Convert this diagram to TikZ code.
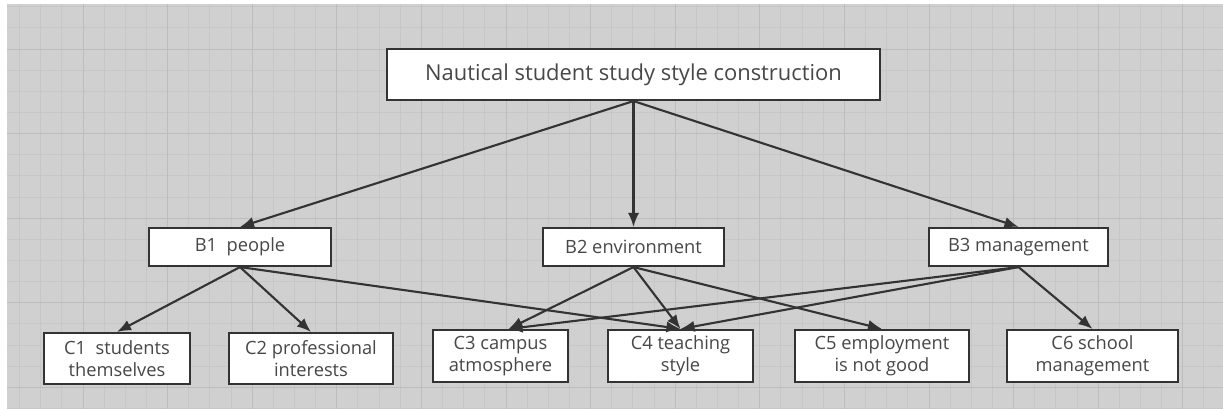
\documentclass[tikz,border=0pt]{standalone}
\usepackage{fontspec}
\setmainfont{Open Sans}
\usetikzlibrary{arrows.meta}
\definecolor{bggrey}{HTML}{D0D0D0}
\definecolor{minorgrid}{HTML}{C7C7C7}
\definecolor{majorgrid}{HTML}{BDBDBD}
\definecolor{ink}{HTML}{333333}
\colorlet{txt}{black!72}

\begin{document}
\begin{tikzpicture}[
            x=0.025cm, y=-0.025cm,
            box/.style={draw=ink, line width=1.5pt, fill=white, text=txt, inner sep=0pt,
                align=center, font=\fontsize{13}{15.6}\selectfont},
            link/.style={-{Latex[length=10pt,width=8pt]}, ink, line width=1.5pt}
        ]
            \useasboundingbox (0,0) rectangle (1223,409);
            \fill [white] (0,0) rectangle (1223,409);
            \fill [bggrey] (7,4) rectangle (1223,409);

            % grid
            \begin{scope}
                \clip (7,4) rectangle (1223,409);
                \foreach \k in {0,...,58} {
                    \draw [minorgrid,line width=0.7pt] ({-1.6+21.15*\k},4) -- ({-1.6+21.15*\k},409);
                }
                \foreach \k in {0,...,19} {
                    \draw [minorgrid,line width=0.7pt] (7,{6.7+21.15*\k}) -- (1223,{6.7+21.15*\k});
                }
                \foreach \k in {0,...,14} {
                    \draw [majorgrid,line width=0.7pt] ({-1.6+84.6*\k},4) -- ({-1.6+84.6*\k},409);
                }
                \foreach \k in {0,...,4} {
                    \draw [majorgrid,line width=0.7pt] (7,{49+84.6*\k}) -- (1223,{49+84.6*\k});
                }
            \end{scope}

            % goal
            \node [box,font=\fontsize{15.6}{18}\selectfont,minimum width=12.325cm,minimum height=1.275cm] (goal) at (633.5,74.5) {Nautical student study style construction};

            % criteria
            \node [box,minimum width=4.55cm,minimum height=0.95cm] (b1) at (240,247) {B1\ \ people};
            \node [box,minimum width=4.525cm,minimum height=0.95cm] (b2) at (633.5,247) {B2 environment};
            \node [box,minimum width=4.475cm,minimum height=0.95cm] (b3) at (1018.5,247) {B3 management};

            % factors
            \node [box,minimum width=3.65cm,minimum height=1.275cm] (c1) at (117,358.5) {C1\ \ students\\themselves};
            \node [box,minimum width=4.1cm,minimum height=1.275cm] (c2) at (311,358.5) {C2 professional\\interests};
            \node [box,minimum width=3.375cm,minimum height=1.3cm] (c3) at (500.5,356) {C3 campus\\atmosphere};
            \node [box,minimum width=3.625cm,minimum height=1.3cm] (c4) at (680.5,356) {C4 teaching\\style};
            \node [box,minimum width=4.35cm,minimum height=1.3cm] (c5) at (882,356) {C5 employment\\is not good};
            \node [box,minimum width=4.275cm,minimum height=1.3cm] (c6) at (1092.5,356) {C6 school\\management};

            \foreach \b in {b1,b2,b3} {
                \draw [link] (goal.south) -- (\b.north);
            }
            \draw [link] (b1.south) -- (c1.north);
            \draw [link] (b1.south) -- (c2.north);
            \draw [link] (b1.south) -- (c4.north);
            \draw [link] (b2.south) -- ([xshift=0.2cm]c3.north);
            \draw [link] (b2.south) -- (c4.north);
            \draw [link] (b2.south) -- (c5.north);
            \draw [link] (b3.south) -- ([xshift=0.2cm]c3.north);
            \draw [link] (b3.south) -- (c4.north);
            \draw [link] (b3.south) -- (c6.north);
        \end{tikzpicture}
\end{document}
